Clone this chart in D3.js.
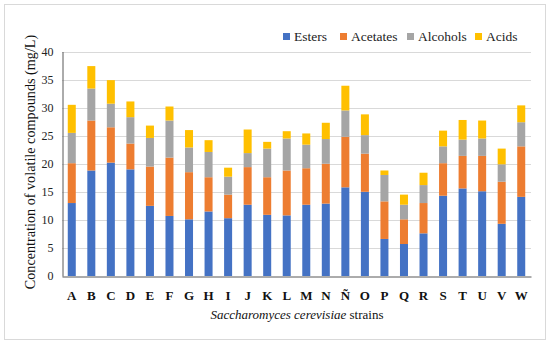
<!DOCTYPE html>
<html>
<head>
<meta charset="utf-8">
<script src="https://cdn.jsdelivr.net/npm/d3@7"></script>
<style>
  body { margin: 0; background: #fff; }
  text { font-family: "Liberation Serif", "DejaVu Serif", serif; }
</style>
</head>
<body>
<div id="chart"></div>
<script>
const w = 550;
const h = 344;

const strains = ['A','B','C','D','E','F','G','H','I','J','K','L','M','N','Ñ','O','P','Q','R','S','T','U','V','W'];
const esters   = [13.0, 18.8, 20.2, 19.0, 12.5, 10.7, 10.1, 11.5, 10.3, 12.7, 10.9, 10.8, 12.7, 12.9, 15.8, 15.0, 6.6, 5.7, 7.6, 14.3, 15.6, 15.1, 9.3, 14.1];
const acetates = [7.1, 8.9, 6.3, 4.6, 7.0, 10.4, 8.4, 6.1, 4.2, 6.7, 6.7, 8.0, 6.5, 7.1, 9.0, 6.8, 6.7, 4.4, 5.4, 5.8, 5.8, 6.3, 7.5, 9.0];
const alcohols = [5.4, 5.7, 4.2, 4.7, 5.1, 6.6, 4.4, 4.5, 3.2, 2.5, 5.1, 5.7, 4.2, 4.4, 4.7, 3.3, 4.7, 2.6, 3.2, 3.0, 2.9, 3.1, 3.1, 4.3];
const acids    = [5.0, 4.0, 4.2, 2.8, 2.2, 2.5, 3.1, 2.1, 1.6, 4.2, 1.2, 1.3, 2.0, 2.9, 4.4, 3.7, 0.8, 1.8, 2.2, 2.8, 3.5, 3.2, 2.8, 3.0];
const seriesNames = ['Esters', 'Acetates', 'Alcohols', 'Acids'];
const yTicks = [0, 5, 10, 15, 20, 25, 30, 35, 40];

const colors = ['#4472C4', '#ED7D31', '#A5A5A5', '#FFC000'];
const margin = {left: 62, right: 19, top: 51.5, bottom: 68};

const rows = strains.map((s, i) => ({
    strain: s, Esters: esters[i], Acetates: acetates[i], Alcohols: alcohols[i], Acids: acids[i]
}));
const stacked = d3.stack().keys(seriesNames)(rows);

const svg = d3.select('#chart')
    .append('svg')
    .attr('width', w)
    .attr('height', h);

// outer frame
svg.append('rect')
    .attr('x', 4.5).attr('y', 4.5)
    .attr('width', 541).attr('height', 335)
    .attr('fill', '#fff')
    .attr('stroke', '#d9d9d9');

const xScale = d3.scaleBand()
    .domain(strains)
    .range([margin.left, w - margin.right])
    .paddingInner(0.59)
    .paddingOuter(0.295);

const yScale = d3.scaleLinear()
    .domain([0, 40])
    .range([h - margin.bottom, margin.top]);

// gridlines
svg.append('g')
    .selectAll('line')
    .data(yTicks.slice(1))
    .enter()
    .append('line')
    .attr('x1', margin.left)
    .attr('x2', w - margin.right)
    .attr('y1', d => Math.round(yScale(d)) + 0.5)
    .attr('y2', d => Math.round(yScale(d)) + 0.5)
    .attr('stroke', '#d9d9d9');

// bars
svg.append('g')
    .selectAll('g')
    .data(stacked)
    .enter()
    .append('g')
    .attr('fill', (d, i) => colors[i])
    .selectAll('rect')
    .data(d => d)
    .enter()
    .append('rect')
    .attr('x', d => xScale(d.data.strain))
    .attr('y', d => yScale(d[1]))
    .attr('width', xScale.bandwidth())
    .attr('height', d => yScale(d[0]) - yScale(d[1]));

// axes
const yAxis = d3.axisLeft(yScale).tickValues(yTicks).tickSize(0).tickPadding(9);
const gy = svg.append('g')
    .attr('transform', 'translate(' + (margin.left + 0.5) + ',0)')
    .call(yAxis);
gy.select('.domain').attr('stroke', '#595959');
gy.selectAll('text').style('font-size', '12px').attr('fill', '#222');

const xAxis = d3.axisBottom(xScale).tickSize(0).tickPadding(14);
const gx = svg.append('g')
    .attr('transform', 'translate(0,' + (Math.round(yScale(0)) + 0.5) + ')')
    .call(xAxis);
gx.select('.domain').attr('stroke', '#595959');
gx.selectAll('text').style('font-size', '13px').style('font-weight', 'bold').attr('fill', '#111');

// axis titles
svg.append('text')
    .attr('transform', 'rotate(-90)')
    .attr('x', -162)
    .attr('y', 35)
    .attr('text-anchor', 'middle')
    .style('font-size', '14.2px')
    .attr('fill', '#111')
    .text('Concentration of volatile compounds (mg/L)');

const xt = svg.append('text')
    .attr('x', 297)
    .attr('y', 319)
    .attr('text-anchor', 'middle')
    .style('font-size', '13px')
    .attr('fill', '#111');
xt.append('tspan').style('font-style', 'italic').text('Saccharomyces cerevisiae');
xt.append('tspan').text(' strains');

// legend
const legendX = [283, 340, 407, 475];
const legend = svg.append('g')
    .selectAll('g')
    .data(seriesNames)
    .enter()
    .append('g')
    .attr('transform', (d, i) => 'translate(' + legendX[i] + ',33)');
legend.append('rect')
    .attr('width', 7).attr('height', 7)
    .attr('fill', (d, i) => colors[i]);
legend.append('text')
    .attr('x', 11)
    .attr('y', 7.5)
    .style('font-size', '13.5px')
    .attr('fill', '#222')
    .text(d => d);
</script>
</body>
</html>
